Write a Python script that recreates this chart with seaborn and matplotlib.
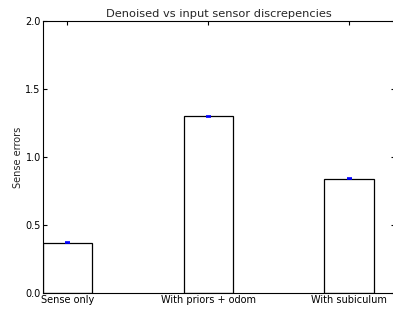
import matplotlib
matplotlib.use("Agg")
import matplotlib.pyplot as plt
import seaborn as sns
import pandas as pd

# values
conditions = ["Sense only", "With priors + odom", "With subiculum"]
sense_errors = [0.37, 1.30, 0.84]
error_sd = [0.004, 0.004, 0.004]

df = pd.DataFrame({"condition": conditions, "error": sense_errors})

sns.set_style("white", rc={
    "xtick.direction": "in",
    "ytick.direction": "in",
    "xtick.top": True,
    "ytick.right": True,
    "xtick.bottom": True,
    "ytick.left": True,
    "axes.edgecolor": "black",
    "axes.linewidth": 0.9,
})
plt.rcParams["font.family"] = ["DejaVu Sans"]

fig = plt.figure(figsize=(3.93, 3.09), dpi=100)
# right spine sits just past the image edge, as in the reference
ax = fig.add_axes([0.109, 0.052, 0.895, 0.88])

sns.barplot(data=df, x="condition", y="error", color="white", edgecolor="black",
            linewidth=0.9, width=0.35, errorbar=None, ax=ax)
ax.errorbar(range(len(conditions)), sense_errors, yerr=error_sd, fmt="none",
            ecolor="blue", elinewidth=1.2, capsize=1.8, capthick=1.2)

ax.set_xlim(-0.175, 2.323)
ax.set_ylim(0, 2.0)
ax.set_yticks([0.0, 0.5, 1.0, 1.5, 2.0])
ax.tick_params(axis="both", length=3, width=0.8, labelsize=7, pad=1.5, colors="black")
ax.set_title("Denoised vs input sensor discrepencies", fontsize=8.2, pad=3)
ax.set_xlabel("")
ax.set_ylabel("Sense errors", fontsize=7, labelpad=2)
for s in ax.spines.values():
    s.set_visible(True)

fig.savefig("out.png", dpi=100)
